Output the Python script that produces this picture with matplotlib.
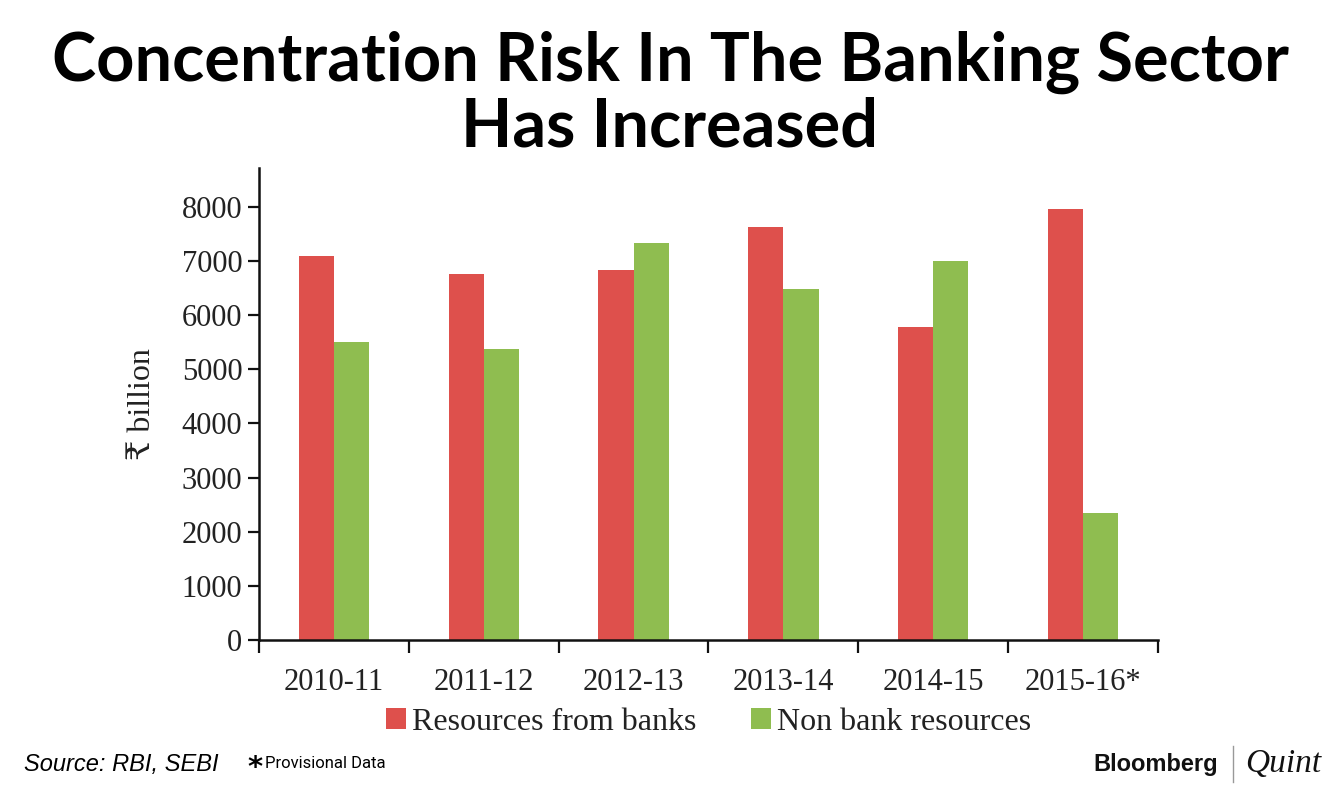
import matplotlib
matplotlib.use('Agg')
import matplotlib.pyplot as plt
import numpy as np

# data (Rs billion)
years = ['2010-11', '2011-12', '2012-13', '2013-14', '2014-15', '2015-16*']
bank_resources = [7100, 6770, 6840, 7630, 5790, 7970]
non_bank_resources = [5510, 5380, 7340, 6490, 7010, 2350]
y_ticks = [0, 1000, 2000, 3000, 4000, 5000, 6000, 7000, 8000]

RED = '#DE504C'
GREEN = '#8FBD50'
SERIF = ['Liberation Serif', 'DejaVu Serif', 'DejaVu Sans']

fig = plt.figure(figsize=(13.4, 7.94), dpi=100)
ax = fig.add_axes([259 / 1340, 154 / 794, 899 / 1340, 472 / 794])

x = np.arange(len(years))
w = 0.235
ax.bar(x - w / 2, bank_resources, width=w, color=RED, label='Resources from banks')
ax.bar(x + w / 2, non_bank_resources, width=w, color=GREEN, label='Non bank resources')

ax.set_xlim(-0.5, len(years) - 0.5)
ax.set_ylim(0, 8720)

# ticks sit on category boundaries, labels in the middle
ax.set_xticks(np.arange(len(years) + 1) - 0.5)
ax.set_xticklabels([])
ax.set_xticks(x, minor=True)
ax.set_xticklabels(years, minor=True, fontsize=22, family=SERIF, color='#222222')
ax.tick_params(axis='x', which='major', direction='out', length=9, width=1.6, color='#111111')
ax.tick_params(axis='x', which='minor', length=0, pad=20)

ax.set_yticks(y_ticks)
ax.set_yticklabels([str(v) for v in y_ticks], fontsize=22, family=SERIF, color='#222222')
ax.tick_params(axis='y', direction='out', length=8, width=1.6, color='#111111', pad=4)

for side in ['top', 'right']:
    ax.spines[side].set_visible(False)
for side in ['left', 'bottom']:
    ax.spines[side].set_linewidth(1.8)
    ax.spines[side].set_color('#111111')

ax.set_ylabel('\u20b9 billion', fontsize=23, family=SERIF, color='#222222', labelpad=18)

leg = ax.legend(loc='center', bbox_to_anchor=(0.5, -0.174), ncol=2, frameon=False,
                prop={'family': SERIF, 'size': 23}, handlelength=0.62, handleheight=0.62,
                handletextpad=0.2, columnspacing=1.7)
for t in leg.get_texts():
    t.set_color('#222222')

# title
fig.text(0.5, 0.962, 'Concentration Risk In The Banking Sector\nHas Increased',
         ha='center', va='top', fontsize=48, fontweight='bold', family='Lato',
         linespacing=1.06, color='black')

# footer
fig.text(24 / 1340, 1 - 765 / 794, 'Source: RBI, SEBI', ha='left', va='center',
         fontsize=17, style='italic', family='Liberation Sans', color='black')
fig.text(247 / 1340, 1 - 768 / 794, '*', ha='left', va='center',
         fontsize=21, fontweight='bold', family='DejaVu Sans', color='black')
fig.text(265 / 1340, 1 - 763 / 794, 'Provisional Data', ha='left', va='center',
         fontsize=12, family='Roboto', color='black')

fig.text(1218 / 1340, 1 - 765 / 794, 'Bloomberg', ha='right', va='center',
         fontsize=17, fontweight='bold', family='Liberation Sans', color='#111111')
fig.add_artist(plt.Line2D([1233 / 1340, 1233 / 1340], [1 - 746 / 794, 1 - 782 / 794],
                          color='#999999', linewidth=1))
fig.text(1245 / 1340, 1 - 764 / 794, 'Quint', ha='left', va='center',
         fontsize=24, style='italic', family='Liberation Serif', color='#111111')

fig.savefig('out.png', dpi=100, facecolor='white')
